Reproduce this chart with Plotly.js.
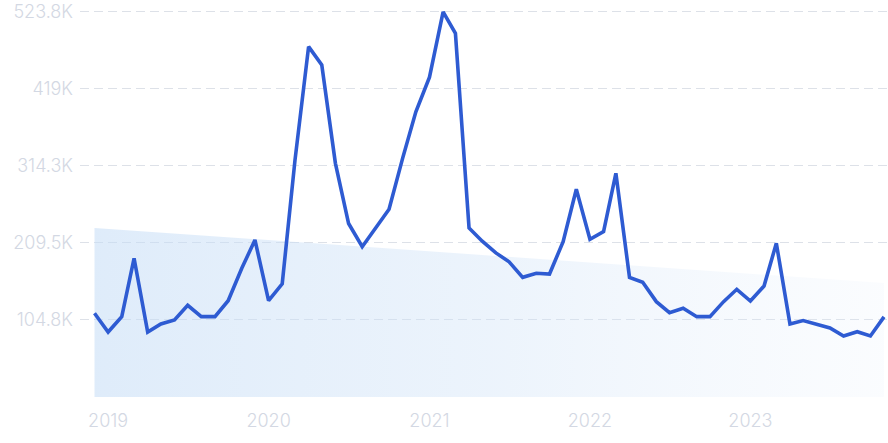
<!DOCTYPE html>
<html>
<head>
<meta charset="utf-8">
<script src="https://cdn.plot.ly/plotly-3.0.1.min.js"></script>
<style>
  html, body { margin: 0; padding: 0; background: #ffffff; }
  #chart { width: 888px; height: 443px; }
</style>
</head>
<body>
<div id="chart"></div>
<script>
// Monthly dates, Dec 2018 – Nov 2023
const months = [
  '2018-12-01',
  '2019-01-01','2019-02-01','2019-03-01','2019-04-01','2019-05-01','2019-06-01',
  '2019-07-01','2019-08-01','2019-09-01','2019-10-01','2019-11-01','2019-12-01',
  '2020-01-01','2020-02-01','2020-03-01','2020-04-01','2020-05-01','2020-06-01',
  '2020-07-01','2020-08-01','2020-09-01','2020-10-01','2020-11-01','2020-12-01',
  '2021-01-01','2021-02-01','2021-03-01','2021-04-01','2021-05-01','2021-06-01',
  '2021-07-01','2021-08-01','2021-09-01','2021-10-01','2021-11-01','2021-12-01',
  '2022-01-01','2022-02-01','2022-03-01','2022-04-01','2022-05-01','2022-06-01',
  '2022-07-01','2022-08-01','2022-09-01','2022-10-01','2022-11-01','2022-12-01',
  '2023-01-01','2023-02-01','2023-03-01','2023-04-01','2023-05-01','2023-06-01',
  '2023-07-01','2023-08-01','2023-09-01','2023-10-01','2023-11-01'
];

// Search volume values
const values = [
  113900,
  88400, 109300, 188700, 88400, 99300, 104800,
  124700, 109300, 109300, 131000, 175100, 213600,
  131000, 154000, 322000, 476600, 451700, 317900,
  236000, 204500, 230000, 255400, 325000, 388000,
  435000, 523800, 494800, 229900, 212000, 196000,
  184000, 162800, 168300, 167300, 211300, 282600,
  214500, 224900, 304300, 162800, 156000, 129700,
  114700, 120700, 109300, 109300, 129700, 146500,
  130600, 151000, 209100, 99300, 104000, 99300,
  94000, 83000, 88800, 83000, 109000
];

// Trend band (start / end of the shaded area)
const trendDates = ['2018-12-01', '2023-11-01'];
const trendValues = [229900, 155100];

// Axis ticks
const yTickVals = [104760, 209520, 314280, 419040, 523800];
const yTickText = ['104.8K', '209.5K', '314.3K', '419K', '523.8K'];
const xTickVals = ['2019-01-01', '2020-01-01', '2021-01-01', '2022-01-01', '2023-01-01'];
const xTickText = ['2019', '2020', '2021', '2022', '2023'];

const tickFont = { family: 'Inter, Lato, "DejaVu Sans", sans-serif', size: 18, color: '#d3d8e3', weight: 300 };

const trendTrace = {
  x: trendDates,
  y: trendValues,
  type: 'scatter',
  mode: 'lines',
  line: { width: 0, color: 'rgba(0,0,0,0)' },
  fill: 'tozeroy',
  fillgradient: {
    type: 'horizontal',
    colorscale: [
      [0, 'rgba(196,220,246,0.55)'],
      [0.5, 'rgba(205,225,247,0.38)'],
      [1, 'rgba(225,236,250,0.15)']
    ]
  },
  hoverinfo: 'skip',
  showlegend: false
};

const lineTrace = {
  x: months,
  y: values,
  type: 'scatter',
  mode: 'lines',
  line: { color: '#2e5bd2', width: 3.6, shape: 'linear' },
  hoverinfo: 'skip',
  showlegend: false
};

const layout = {
  width: 888,
  height: 443,
  margin: { l: 80, r: 0, t: 8, b: 46, pad: 0 },
  paper_bgcolor: '#ffffff',
  plot_bgcolor: '#ffffff',
  showlegend: false,
  xaxis: {
    type: 'date',
    range: ['2018-10-29', '2023-11-10'],
    tickmode: 'array',
    tickvals: xTickVals,
    ticktext: xTickText,
    showgrid: false,
    zeroline: false,
    showline: false,
    ticks: '',
    tickfont: tickFont,
    ticklabelstandoff: 11,
    fixedrange: true
  },
  yaxis: {
    range: [0, 529200],
    tickmode: 'array',
    tickvals: yTickVals,
    ticktext: yTickText,
    showgrid: true,
    gridcolor: '#dde1e8',
    griddash: '9px,5px',
    gridwidth: 1,
    zeroline: false,
    showline: false,
    ticks: '',
    tickfont: tickFont,
    ticklabelstandoff: 6,
    fixedrange: true
  }
};

Plotly.newPlot('chart', [trendTrace, lineTrace], layout, { displayModeBar: false, staticPlot: true });
</script>
</body>
</html>
